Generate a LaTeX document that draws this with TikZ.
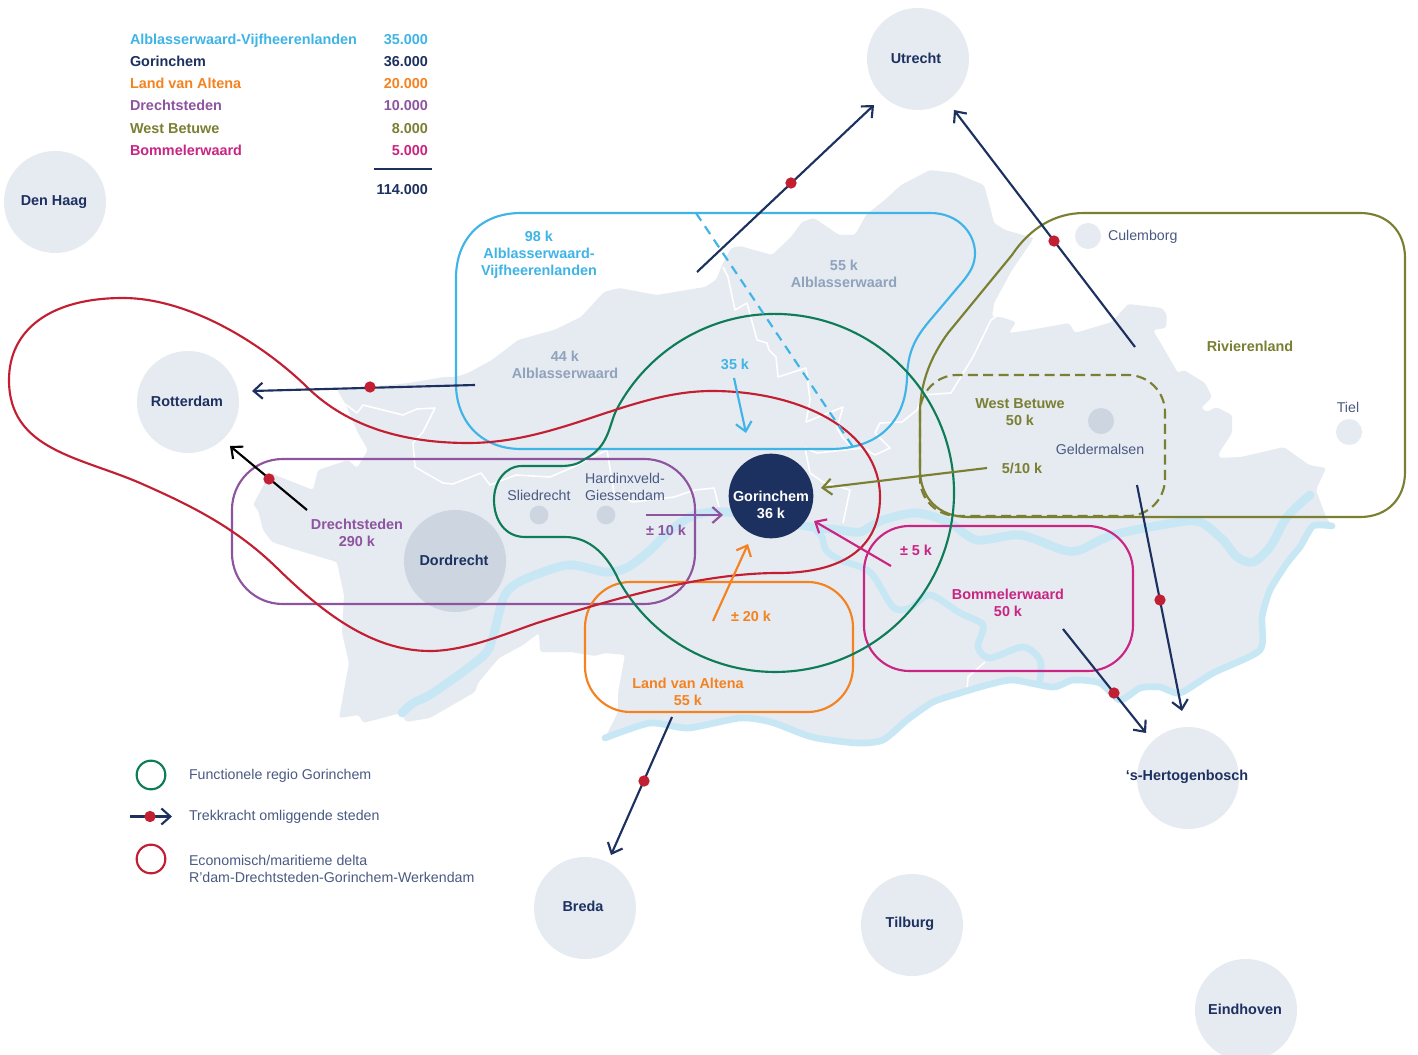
\documentclass[tikz,border=0pt]{standalone}
\usepackage{fontspec}
\setmainfont{Liberation Sans}
\usetikzlibrary{arrows.meta}
\definecolor{land}{HTML}{E6EAF1}
\definecolor{landdark}{HTML}{CCD5E0}
\definecolor{navy}{HTML}{1D3160}
\definecolor{cblue}{HTML}{3FB4E6}
\definecolor{cgreen}{HTML}{0E7C56}
\definecolor{cred}{HTML}{C21F32}
\definecolor{cpurple}{HTML}{8E549F}
\definecolor{corange}{HTML}{F58220}
\definecolor{colive}{HTML}{7A7F32}
\definecolor{cmagenta}{HTML}{C92582}
\definecolor{river}{HTML}{C8E7F5}
\definecolor{greylab}{HTML}{8FA3BC}
\definecolor{citytxt}{HTML}{4A5A82}
\tikzset{
  every node/.style={inner sep=0pt,outer sep=0pt},
  bd/.style={font=\fontsize{10.8}{12.75}\selectfont\bfseries,align=center,yshift=-0.6pt},
  rg/.style={font=\fontsize{10.65}{12.75}\selectfont,align=center,text=citytxt,yshift=-0.6pt},
  tbl/.style={text height=7.9pt,text depth=0pt,yshift=0.75pt},
  city/.style={circle,fill=land,minimum size=76.5pt},
  small/.style={circle,fill=land,minimum size=19.5pt},
  smalld/.style={circle,fill=landdark,minimum size=19.5pt},
  tiny/.style={circle,fill=landdark,minimum size=14pt},
  borderline/.style={draw=white,line width=1.2pt,line join=round},
  riv/.style={draw=river,line width=6.5pt,line cap=round,line join=round},
  rivthin/.style={draw=river,line width=5pt,line cap=round,line join=round},
  region/.style={line width=1.6pt,rounded corners},
  pull/.style={draw=navy,line width=1.6pt,-{Straight Barb[length=6.75pt,width=12pt,line width=1.6pt]}},
  flow/.style={line width=1.6pt,-{Straight Barb[length=6.75pt,width=12pt,line width=1.6pt]}},
  dot/.style={circle,fill=cred,minimum size=8.5pt}
}
\begin{document}
\begin{tikzpicture}[x=0.75pt,y=-0.75pt]
\useasboundingbox (0,0) rectangle (1418,1055);
\fill[white] (0,0) rectangle (1418,1055);
% land
\fill[land,rounded corners=2pt] (337,390)--(409,383)--(444,377)--(456,377)--(468,373)--(492,360)--(518,340)--(554,330)--(581,317)--(604,292)--(619,288)--(657,295)--(705,287)--(716,280)--(723,263)--(731,248)--(740,246)--(772,255)--(791,237)--(802,222)--(814,218)--(839,235)--(855,235)--(866,215)--(887,198)--(901,185)--(930,170)--(955,173)--(984,185)--(989,203)--(994,223)--(1005,230)--(1034,238)--(1012,270)--(994,303)--(992,317)--(1001,317)--(1016,322)--(1009,333)--(1030,330)--(1069,323)--(1075,333)--(1112,322)--(1128,304)--(1162,308)--(1167,315)--(1166,328)--(1153,330)--(1178,373)--(1184,370)--(1205,383)--(1212,397)--(1201,408)--(1207,412)--(1216,407)--(1232,415)--(1232,433)--(1219,453)--(1219,458)--(1241,457)--(1284,447)--(1309,465)--(1326,468)--(1316,490)--(1326,517)--(1332,526)--(1313,526)--(1300,547)--(1287,563)--(1270,590)--(1262,617)--(1260,650)--(1213,673)--(1180,693)--(1160,687)--(1140,688)--(1120,700)--(1100,683)--(1073,680)--(1053,687)--(1013,680)--(987,685)--(960,693)--(933,702)--(907,720)--(883,740)--(857,743)--(812,737)--(771,722)--(740,718)--(688,728)--(650,723)--(605,738)--(618,712)--(618,693)--(625,655)--(605,653)--(595,656)--(571,652)--(540,652)--(539,633)--(523,645)--(499,658)--(478,683)--(475,692)--(430,718)--(406,722)--(401,713)--(363,723)--(359,715)--(339,718)--(349,663)--(342,633)--(344,595)--(337,562)--(290,548)--(272,542)--(263,530)--(258,510)--(253,505)--(270,473)--(313,490)--(318,470)--(348,460)--(357,468)--(368,450)--(358,433)--(345,403)--cycle;
% municipal borders
\draw[borderline] (345,404)--(357,413)--(363,405)--(403,415)--(417,409)--(435,408)--(423,432)--(413,443)--(415,467)--(443,483)--(453,484)--(481,473)--(490,485)--(516,475)--(550,477)--(571,468)--(607,450)--(614,493)--(633,502)--(674,497)--(695,490)--(714,488)--(719,507);
\draw[borderline] (723,267)--(728,277)--(735,310)--(747,303)--(757,340)--(767,343)--(769,350)--(776,357)--(778,377)--(806,368)--(810,400)--(806,422)--(843,407)--(837,428)--(843,438)--(852,447);
\draw[borderline] (805,448)--(817,453)--(863,448)--(875,455)--(890,448)--(875,433)--(880,423)--(902,422)--(917,410)--(923,395)--(951,393)--(973,357)--(991,320)--(998,315);
\draw[borderline] (805,448)--(810,473)--(823,482)--(850,490)--(843,523);
\draw[borderline] (985,662)--(968,677)--(967,690);
% rivers
\draw[riv] plot[smooth,tension=0.5] coordinates {(402,713)(413,703)(433,693)(482,657)(492,640)(499,613)(506,593)(523,580)(568,565)(605,572)(626,568)(647,553)(671,530)(695,515)(726,512)(771,520)(812,527)(840,530)(860,532)(883,520)(917,513)(950,523)(977,540)(1020,535)(1063,550)(1080,550)(1113,535)(1173,523)(1200,522)(1223,540)(1237,557)(1253,562)(1270,547)(1287,517)(1310,495)};
\draw[rivthin] plot[smooth,tension=0.5] coordinates {(816,530)(822,537)(826,550)(840,560)(870,572)(893,607)(910,608)(930,595)(960,613)(983,625)(978,647)(990,658)(1023,647)(1040,660)(1040,680)};
\draw[rivthin] plot[smooth,tension=0.4] coordinates {(1332,526)(1313,526)(1300,547)(1287,563)(1270,590)(1262,617)(1260,650)(1213,673)(1180,693)(1160,687)(1140,688)(1120,700)(1100,683)(1073,680)(1053,687)(1013,680)(987,685)(960,693)(933,702)(907,720)(883,740)(857,743)(812,737)(771,722)(740,718)(688,728)(650,723)(605,738)};
% cities
\node[city] (utrecht) at (918,59) {};
\node[city] (denhaag) at (55,202) {};
\node[city] (rotterdam) at (188,402) {};
\node[city,fill=landdark] (dordrecht) at (455,561) {};
\node[city] (bosch) at (1188,778) {};
\node[city] (breda) at (585,908) {};
\node[city] (tilburg) at (912,925) {};
\node[city] (eindhoven) at (1246,1010) {};
\node[small] (culemborg) at (1088,236) {};
\node[small] (tiel) at (1349,432) {};
\node[smalld] (geldermalsen) at (1101,421) {};
\node[tiny] (sliedrecht) at (539,515) {};
\node[tiny] (hardinxveld) at (606,515) {};
\node[circle,fill=navy,minimum size=63.5pt] (gorinchem) at (771,496) {};
% regions
\draw[cblue,line width=1.6pt] (521,213)--(930,213) .. controls (960,213) and (975,235) .. (975,253) .. controls (975,265) and (970,272) .. (964,280) -- (937,312) .. controls (920,332) and (908,345) .. (907,377) .. controls (906,420) and (880,449) .. (830,449) -- (521,449) .. controls (480,449) and (456,420) .. (456,384) -- (456,278) .. controls (456,240) and (480,213) .. (521,213) -- cycle;
\draw[colive,line width=1.6pt] (1084,213)--(1360,213) .. controls (1388,213) and (1405,232) .. (1405,258) -- (1405,472) .. controls (1405,498) and (1388,517) .. (1360,517) -- (968,517) .. controls (938,517) and (920,497) .. (920,470) -- (920,410) .. controls (921,380) and (932,355) .. (948,333) -- (1012,255) .. controls (1030,228) and (1055,213) .. (1084,213) -- cycle;
\draw[colive,line width=1.6pt,dash pattern=on 7.5pt off 4pt,rounded corners=28pt] (920,375) rectangle (1165,516);
\draw[cpurple,region,rounded corners=38pt] (232,459) rectangle (695,604);
\draw[corange,region,rounded corners=34pt] (585,582) rectangle (853,712);
\draw[cmagenta,region,rounded corners=34pt] (864,526) rectangle (1133,671);
\draw[cgreen,line width=1.6pt] (618.6,580) arc[start angle=150.9,end angle=-152.4,radius=179] .. controls (609,425) and (609,447) .. (585,459) .. controls (578,464) and (572,466) .. (560,466) -- (522,466) .. controls (505,466) and (494,482) .. (494,500) .. controls (494,520) and (505,537) .. (525,537) -- (565,537) .. controls (590,537) and (608,556) .. (618.6,580) -- cycle;
\draw[cred,line width=1.6pt] (123,298) .. controls (190,298) and (265,345) .. (310,390) .. controls (355,432) and (415,443) .. (468,443) .. controls (560,443) and (630,391) .. (712,391) .. controls (800,391) and (880,430) .. (880,497) .. controls (880,550) and (840,573) .. (778,573) .. controls (700,573) and (610,600) .. (537,623) .. controls (505,634) and (465,651) .. (430,651) .. controls (370,651) and (320,610) .. (277,568) .. controls (235,527) and (190,505) .. (140,483) .. controls (80,457) and (9,450) .. (9,380) .. controls (9,330) and (50,298) .. (123,298) -- cycle;
% colored flows
\coordinate (bs) at (696,213); \coordinate (be) at (853,447);
\draw[cblue,line width=1.6pt,dash pattern=on 7pt off 5pt] (bs)--(be);
\coordinate (f1s) at (734,378); \coordinate (f1e) at (746,433);
\draw[flow,draw=cblue] (f1s)--(f1e);
\coordinate (f2s) at (646,515); \coordinate (f2e) at (723,515);
\draw[flow,draw=cpurple] (f2s)--(f2e);
\coordinate (f3s) at (713,621); \coordinate (f3e) at (748,544);
\draw[flow,draw=corange] (f3s)--(f3e);
\coordinate (f4s) at (987,468); \coordinate (f4e) at (821,488);
\draw[flow,draw=colive] (f4s)--(f4e);
\coordinate (f5s) at (891,566); \coordinate (f5e) at (814,521);
\draw[flow,draw=cmagenta] (f5s)--(f5e);
% pull arrows
\coordinate (p1s) at (697,272); \coordinate (p1e) at (874,105);
\draw[pull] (p1s)--(p1e); \node[dot] (d1) at (791,183) {};
\coordinate (p2s) at (1135,347); \coordinate (p2e) at (954,110);
\draw[pull] (p2s)--(p2e); \node[dot] (d2) at (1054,241) {};
\coordinate (p3s) at (475,385); \coordinate (p3e) at (252,391);
\draw[pull] (p3s)--(p3e); \node[dot] (d3) at (370,387) {};
\coordinate (p4s) at (307,510); \coordinate (p4e) at (230,446);
\draw[pull,draw=black] (p4s)--(p4e); \node[dot] (d4) at (269,479) {};
\coordinate (p5s) at (672,717); \coordinate (p5e) at (611,855);
\draw[pull] (p5s)--(p5e); \node[dot] (d5) at (644,781) {};
\coordinate (p6s) at (1137,485); \coordinate (p6e) at (1182,711);
\draw[pull] (p6s)--(p6e); \node[dot] (d6) at (1160,600) {};
\coordinate (p7s) at (1063,629); \coordinate (p7e) at (1146,733);
\draw[pull] (p7s)--(p7e); \node[dot] (d7) at (1114,693) {};
% city labels
\node[bd,text=navy] (tu) at (916,58) {Utrecht};
\node[bd,text=navy] (td) at (54,201) {Den Haag};
\node[bd,text=navy] (tr) at (187,401) {Rotterdam};
\node[bd,text=navy] (to) at (454,560) {Dordrecht};
\node[bd,text=navy] (th) at (1187,776) {‘s-Hertogenbosch};
\node[bd,text=navy] (tb) at (583,906) {Breda};
\node[bd,text=navy] (tt) at (910,923.5) {Tilburg};
\node[bd,text=navy] (te) at (1245,1009) {Eindhoven};
\node[bd,text=white] (tg) at (771,504.5) {Gorinchem\\36 k};
\node[rg,anchor=west] (tc) at (1108,236.5) {Culemborg};
\node[rg] (tti) at (1348,407) {Tiel};
\node[rg] (tge) at (1100,449) {Geldermalsen};
\node[rg] (ts) at (539,495) {Sliedrecht};
\node[rg] (thg) at (625,486) {Hardinxveld-\\Giessendam};
% region labels
\node[bd,text=cblue] (l1) at (539,253.5) {98 k\\Alblasserwaard-\\Vijfheerenlanden};
\node[bd,text=greylab] (l2) at (844,273.5) {55 k\\Alblasserwaard};
\node[bd,text=greylab] (l3) at (565,364.5) {44 k\\Alblasserwaard};
\node[bd,text=cblue] (l4) at (735,364) {35 k};
\node[bd,text=colive] (l5) at (1250,346) {Rivierenland};
\node[bd,text=colive] (l6) at (1020,411) {West Betuwe\\50 k};
\node[bd,text=colive] (l7) at (1022,468) {5/10 k};
\node[bd,text=cpurple] (l8) at (666,530) {± 10 k};
\node[bd,text=cmagenta] (l9) at (916,550) {± 5 k};
\node[bd,text=corange] (l10) at (751,616) {± 20 k};
\node[bd,text=cpurple] (l11) at (357,532) {Drechtsteden\\290 k};
\node[bd,text=cmagenta] (l12) at (1008,602) {Bommelerwaard\\50 k};
\node[bd,text=corange] (l13) at (688,691) {Land van Altena\\55 k};
% table
\node[bd,tbl,text=cblue,anchor=west] (a1) at (130,39) {Alblasserwaard-Vijfheerenlanden};
\node[bd,tbl,text=navy,anchor=west] (a2) at (130,61) {Gorinchem};
\node[bd,tbl,text=corange,anchor=west] (a3) at (130,83) {Land van Altena};
\node[bd,tbl,text=cpurple,anchor=west] (a4) at (130,105) {Drechtsteden};
\node[bd,tbl,text=colive,anchor=west] (a5) at (130,128) {West Betuwe};
\node[bd,tbl,text=cmagenta,anchor=west] (a6) at (130,150) {Bommelerwaard};
\node[bd,tbl,text=cblue,anchor=east] (b1) at (428,39) {35.000};
\node[bd,tbl,text=navy,anchor=east] (b2) at (428,61) {36.000};
\node[bd,tbl,text=corange,anchor=east] (b3) at (428,83) {20.000};
\node[bd,tbl,text=cpurple,anchor=east] (b4) at (428,105) {10.000};
\node[bd,tbl,text=colive,anchor=east] (b5) at (428,128) {8.000};
\node[bd,tbl,text=cmagenta,anchor=east] (b6) at (428,150) {5.000};
\coordinate (rs) at (374,169); \coordinate (re) at (432,169);
\draw[navy,line width=1.6pt] (rs)--(re);
\node[bd,tbl,text=navy,anchor=east] (b7) at (428,189) {114.000};
% legend
\node[circle,draw=cgreen,line width=1.6pt,minimum size=21.5pt] (lg1) at (151,775) {};
\node[circle,draw=cred,line width=1.6pt,minimum size=21.5pt] (lg3) at (151,859) {};
\coordinate (lgs) at (130,816.5); \coordinate (lge) at (172,816.5);
\draw[pull] (lgs)--(lge); \node[dot] (lg2) at (150,816.5) {};
\node[rg,anchor=west] (t1) at (189,775) {Functionele regio Gorinchem};
\node[rg,anchor=west] (t2) at (189,816.5) {Trekkracht omliggende steden};
\node[rg,anchor=west,align=left] (t3) at (189,868.5) {Economisch/maritieme delta\\R’dam-Drechtsteden-Gorinchem-Werkendam};
\end{tikzpicture}
\end{document}
